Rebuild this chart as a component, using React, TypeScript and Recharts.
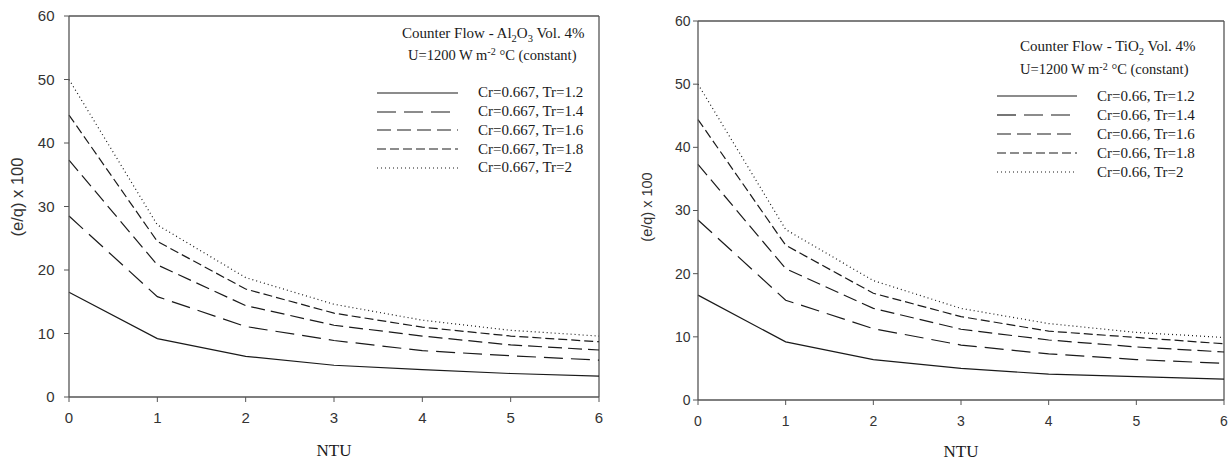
import React from 'react';
import { LineChart, Line, XAxis, YAxis, Legend, ReferenceLine } from 'recharts';

const NTU = [0, 1, 2, 3, 4, 5, 6];
const Y_TICKS = [0, 10, 20, 30, 40, 50, 60];

// Al2O3, Cr=0.667
const AL_TR12 = [16.5, 9.2, 6.4, 5.0, 4.3, 3.7, 3.3];
const AL_TR14 = [28.5, 15.8, 11.1, 8.9, 7.3, 6.5, 5.8];
const AL_TR16 = [37.3, 20.8, 14.4, 11.3, 9.6, 8.2, 7.4];
const AL_TR18 = [44.4, 24.5, 17.0, 13.2, 11.0, 9.6, 8.7];
const AL_TR2 = [50.0, 27.1, 18.8, 14.6, 12.1, 10.5, 9.6];
const AL_LABELS = ['Cr=0.667, Tr=1.2', 'Cr=0.667, Tr=1.4', 'Cr=0.667, Tr=1.6', 'Cr=0.667, Tr=1.8', 'Cr=0.667, Tr=2'];

// TiO2, Cr=0.66
const TI_TR12 = [16.6, 9.2, 6.4, 5.0, 4.1, 3.7, 3.3];
const TI_TR14 = [28.5, 15.8, 11.3, 8.7, 7.3, 6.4, 5.8];
const TI_TR16 = [37.3, 20.8, 14.5, 11.2, 9.5, 8.4, 7.6];
const TI_TR18 = [44.4, 24.5, 16.9, 13.2, 10.9, 9.9, 8.9];
const TI_TR2 = [50.0, 27.0, 18.9, 14.5, 12.1, 10.7, 9.9];
const TI_LABELS = ['Cr=0.66, Tr=1.2', 'Cr=0.66, Tr=1.4', 'Cr=0.66, Tr=1.6', 'Cr=0.66, Tr=1.8', 'Cr=0.66, Tr=2'];

const KEYS = ['tr12', 'tr14', 'tr16', 'tr18', 'tr2'];
const DASHES = [undefined, '19 8', '14 6', '9 4', '1 3'];

const SERIF = '"Liberation Serif", "Times New Roman", serif';
const SANS = '"Liberation Sans", Arial, sans-serif';
const INK = '#1a1a1a';
const AXIS = '#555';

const Sub = ({ children }: { children: React.ReactNode }) => (
  <span style={{ fontSize: '0.7em', position: 'relative', top: '0.35em' }}>{children}</span>
);
const Sup = ({ children }: { children: React.ReactNode }) => (
  <span style={{ fontSize: '0.7em', position: 'relative', top: '-0.45em' }}>{children}</span>
);

function buildRows(series: number[][]) {
  return NTU.map((n, i) => {
    const row: Record<string, number> = { ntu: n };
    KEYS.forEach((k, j) => { row[k] = series[j][i]; });
    return row;
  });
}

type Cfg = {
  left: number; width: number;
  margin: { top: number; right: number; left: number; bottom: number };
  xAxisHeight: number; tickFont: number; yTickMargin: number; xTickMargin: number;
  yLabelFont: number; yLabelDx: number; yLabelDy: number; xLabelDy: number;
  legendLeft: number; legendTop: number; sampleW: number;
  titlePad: number; unitPad: number; titleLH: number; rowsGap: number; rowH: number;
};

function Panel({ series, labels, title, cfg }: { series: number[][]; labels: string[]; title: React.ReactNode; cfg: Cfg }) {
  const data = buildRows(series);
  const legend = () => (
    <div style={{ fontFamily: SERIF, color: INK, whiteSpace: 'nowrap' }}>
      <div style={{ paddingLeft: cfg.titlePad, fontSize: 15, lineHeight: `${cfg.titleLH}px`, height: cfg.titleLH }}>{title}</div>
      <div style={{ paddingLeft: cfg.unitPad, fontSize: 14.5, lineHeight: `${cfg.titleLH}px`, height: cfg.titleLH }}>
        U=1200 W m<Sup>-2</Sup> °C (constant)
      </div>
      <div style={{ marginTop: cfg.rowsGap }}>
        {labels.map((l, i) => (
          <div key={l} style={{ display: 'flex', alignItems: 'center', height: cfg.rowH, fontSize: 15 }}>
            <svg width={cfg.sampleW} height={4} style={{ display: 'block' }}>
              <line x1={0} y1={2} x2={cfg.sampleW} y2={2} stroke={INK} strokeWidth={1.2} strokeDasharray={DASHES[i]} />
            </svg>
            <span style={{ marginLeft: 20 }}>{l}</span>
          </div>
        ))}
      </div>
    </div>
  );
  return (
    <div style={{ position: 'absolute', left: cfg.left, top: 0 }}>
      <LineChart width={cfg.width} height={463} data={data} margin={cfg.margin}>
        <XAxis
          dataKey="ntu" type="number" domain={[0, 6]} ticks={NTU} interval={0}
          height={cfg.xAxisHeight} tickSize={5} tickMargin={cfg.xTickMargin}
          axisLine={{ stroke: AXIS, strokeWidth: 1.3 }} tickLine={{ stroke: AXIS }}
          tick={{ fill: '#333', fontSize: cfg.tickFont, fontFamily: SANS }}
          label={{
            content: (p: any) => {
              const vb = p.viewBox || {};
              return (
                <text x={vb.x + vb.width / 2} y={vb.y + cfg.xLabelDy} textAnchor="middle"
                  style={{ fontFamily: SERIF, fontSize: 17, fill: INK }}>NTU</text>
              );
            },
          }}
        />
        <YAxis
          type="number" domain={[0, 60]} ticks={Y_TICKS} interval={0} width={40}
          tickSize={5} tickMargin={cfg.yTickMargin}
          axisLine={{ stroke: AXIS, strokeWidth: 1.3 }} tickLine={{ stroke: AXIS }}
          tick={{ fill: '#333', fontSize: cfg.tickFont, fontFamily: SANS }}
          label={{
            content: (p: any) => {
              const vb = p.viewBox || {};
              const x = vb.x + cfg.yLabelDx;
              const y = vb.y + vb.height / 2 + cfg.yLabelDy;
              return (
                <text x={x} y={y} transform={`rotate(-90 ${x} ${y})`} textAnchor="middle" dominantBaseline="central"
                  style={{ fontFamily: SANS, fontSize: cfg.yLabelFont, fill: '#333' }}>(e/q) x 100</text>
              );
            },
          }}
        />
        <ReferenceLine y={60} stroke={AXIS} strokeWidth={1.3} />
        <ReferenceLine x={6} stroke={AXIS} strokeWidth={1.3} />
        {KEYS.map((k, i) => (
          <Line key={k} dataKey={k} type="linear" stroke={INK} strokeWidth={1.2}
            strokeDasharray={DASHES[i]} dot={false} activeDot={false} isAnimationActive={false} />
        ))}
        <Legend layout="vertical" align="center" verticalAlign="middle" content={legend}
          wrapperStyle={{ left: cfg.legendLeft, top: cfg.legendTop, width: 230, height: 'auto' }} />
      </LineChart>
    </div>
  );
}

const LEFT_CFG: Cfg = {
  left: 0, width: 620,
  margin: { top: 16, right: 21, left: 29, bottom: 6 },
  xAxisHeight: 60, tickFont: 15, yTickMargin: 9.5, xTickMargin: 10,
  yLabelFont: 16.5, yLabelDx: -12, yLabelDy: -9.5, xLabelDy: 58.5,
  legendLeft: 377, legendTop: 22, sampleW: 81,
  titlePad: 25, unitPad: 31, titleLH: 22, rowsGap: 17.5, rowH: 18.75,
};

const RIGHT_CFG: Cfg = {
  left: 620, width: 612,
  margin: { top: 21, right: 8, left: 38, bottom: 6 },
  xAxisHeight: 57, tickFont: 14, yTickMargin: 2.5, xTickMargin: 11.5,
  yLabelFont: 14.5, yLabelDx: -11, yLabelDy: -3.5, xLabelDy: 57.3,
  legendLeft: 377, legendTop: 35, sampleW: 80,
  titlePad: 23, unitPad: 23, titleLH: 23.3, rowsGap: 5, rowH: 19,
};

export default function App() {
  return (
    <div style={{ position: 'absolute', left: 0, top: 0, width: 1232, height: 463, background: '#fff' }}>
      <Panel
        series={[AL_TR12, AL_TR14, AL_TR16, AL_TR18, AL_TR2]}
        labels={AL_LABELS}
        title={<>Counter Flow - Al<Sub>2</Sub>O<Sub>3</Sub> Vol. 4%</>}
        cfg={LEFT_CFG}
      />
      <Panel
        series={[TI_TR12, TI_TR14, TI_TR16, TI_TR18, TI_TR2]}
        labels={TI_LABELS}
        title={<>Counter Flow - TiO<Sub>2</Sub> Vol. 4%</>}
        cfg={RIGHT_CFG}
      />
    </div>
  );
}
